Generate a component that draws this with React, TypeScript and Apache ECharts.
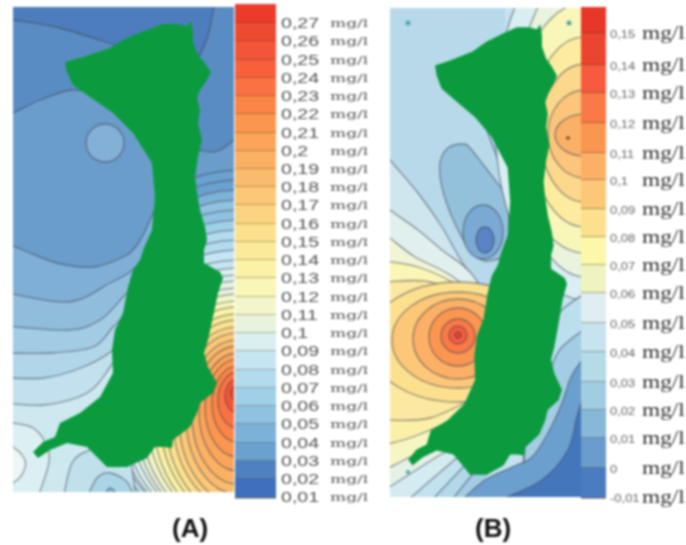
import React, { useEffect, useRef } from "react";
import * as echarts from "echarts";

type P = number[];
type Layer = { segs?: P[][]; ring?: number[]; color: string; line?: boolean };

// ---- legends ----
const labelsA = ["0,27","0,26","0,25","0,24","0,23","0,22","0,21","0,2","0,19","0,18","0,17","0,16","0,15","0,14","0,13","0,12","0,11","0,1","0,09","0,08","0,07","0,06","0,05","0,04","0,03","0,02","0,01"];
const edgesA = [4,23,41,60,78,96,114,133,151,169,187,205,224,242,260,278,297,315,333,351,370,388,406,424,443,461,479,498];
const colorsA = ["#ea3b2b","#ee4a30","#f25538","#f8603c","#fb7242","#fb8547","#fb964e","#fca45a","#fbb164","#fbbb6c","#fcc877","#fcd481","#fce08d","#fbea99","#fbf2a6","#f9f6ba","#f3f6cb","#e7f3de","#d9eff0","#c6e5f2","#b2dbee","#a0d0e8","#8fc2e0","#7cb2d8","#6aa1ce","#4f80bf","#3f6fbd"];
const labelsB = ["0,15","0,14","0,13","0,12","0,11","0,1","0,09","0,08","0,07","0,06","0,05","0,04","0,03","0,02","0,01","0","-0,01"];
const edgesB = [7,33,65,93,123,153,180,209,237,265,293,323,352,382,410,438,468,498];
const colorsB = ["#e8362a","#ea452e","#f75b3e","#fa7a47","#fb9650","#fcb066","#fcc878","#fce08e","#fdf7a9","#eff3c0","#deeef2","#c6e3ef","#b5dae8","#a0cde2","#86b8d8","#6a9dcd","#4a7cc0"];

// ---- island outline (shared by both panels) ----
const island: P[] = [[65,62],[83,57],[110,48],[127,38],[147,30],[163,24],[177,24],[187,26],[191,21],[193,32],[193,43],[198,55],[205,63],[211,72],[207,80],[200,90],[197,98],[200,110],[198,123],[202,140],[198,157],[195,177],[197,193],[200,210],[205,227],[207,240],[204,250],[204,263],[220,272],[223,278],[218,293],[213,317],[208,340],[204,353],[208,367],[217,383],[213,393],[200,403],[197,413],[190,427],[173,440],[172,448],[163,447],[155,447],[147,458],[127,467],[107,467],[98,458],[87,447],[67,443],[50,450],[38,458],[33,452],[43,442],[55,437],[60,423],[80,413],[100,397],[113,373],[112,350],[115,330],[123,313],[128,287],[133,270],[140,260],[144,248],[152,230],[155,197],[152,163],[133,133],[113,113],[90,97],[73,85],[67,72]];

// ---- panel A: isolines around the eastern maximum ----
const ringsA: number[][] = [[238,393,7,8],[238,396,13,17],[238,400,20,28],[238,404,26,38],[238,408,33,49],[238,412,39,59],[238,415,46,69],[238,417,52,77],[238,418,59,85],[238,418,65,91],[238,418,72,98],[238,417,78,103],[238,416,85,109],[238,414,91,113],[238,412,98,118],[238,410,104,122],[238,407,110,126],[238,405,117,130],[238,402,123,134],[238,398,128,138],[238,395,133,145],[238,392,138,152],[238,392,142,162],[238,392,146,172],[238,392,150,182],[238,392,154,192],[238,392,158,202],[238,392,162,212],[238,392,166,222]];
const ringColorIndexA = [1,2,4,5,6,7,8,9,10,11,12,13,14,15,16,17,17,18,18,19,19,20,20,21,22,22,23,24,24];
const pocketA = [105,143,19,19];
const closeLeft: P[] = [[150,340],[150,60],[-5,60]];
const westA: Layer[] = [
  { segs: [[[138,500],[125,477],[118,467]],[[130,300],[130,200],[-5,200],[-5,500]]], color: "#cde8ef" },
  { segs: [[[63,500],[72,463],[90,450],[105,450]],[[130,450],[136,500]]], color: "#c0e0eb" },
  { segs: [[[86,500],[97,478],[110,473],[127,482],[135,500]]], color: "#a9d5e4" },
  { segs: [[[103,500],[110,488],[122,500]]], color: "#7ebbd6" },
  { segs: [[[-5,422],[13,423],[33,428],[45,442],[49,462],[37,500]],[[-5,500]]], color: "#dcf0f3" },
  { segs: [[[-5,440],[13,447],[25,460],[23,473],[13,483],[-5,490]]], color: "#ecf6f5" },
  { segs: [[[-5,402],[43,405],[87,393],[110,367],[125,340]],closeLeft], color: "#c2e0ee" },
  { segs: [[[-5,377],[43,378],[83,367],[113,350],[128,330]],closeLeft], color: "#b2d6e9" },
  { segs: [[[-5,353],[50,353],[93,347],[113,327],[130,310]],closeLeft], color: "#a2cbe4" },
  { segs: [[[-5,325],[67,330],[100,320],[123,297],[135,285]],closeLeft], color: "#91bddd" },
  { segs: [[[-5,290],[67,302],[110,283],[130,272],[140,262]],closeLeft], color: "#7fafd6" },
  { segs: [[[-5,238],[23,250],[57,263],[93,267],[123,257],[137,245],[150,220],[158,195],[150,150]],[[150,60],[-5,60]]], color: "#6a9dcb" },
];
const northA: Layer[] = [
  { segs: [[[-5,120],[13,113],[40,100],[72,90],[100,95]],[[160,120],[195,145]],[[200,150],[218,151],[240,135]],[[240,-5],[-5,-5]]], color: "#5a8cc4" },
  { segs: [[[-5,18],[13,20],[60,28],[115,45]],[[200,55],[208,35],[214,7],[215,-5]],[[-5,-5]]], color: "#4d7dbd" },
];

// ---- panel B ----
const seaB: P[] = [[380,0],[600,0],[600,520],[380,520]];
const closeWestB: P[] = [[520,310],[520,520],[385,520]];
const closeSouthB: P[] = [[560,465],[560,520],[385,520]];
const westB: Layer[] = [
  { segs: [[[385,150],[390,160],[418,193],[442,227],[462,262],[495,310]],closeWestB], color: "#cfe6ef" },
  { segs: [[[385,205],[390,210],[418,230],[442,250],[470,272],[495,310]],closeWestB], color: "#e1f0ee" },
  { segs: [[[385,235],[390,238],[415,257],[450,275],[495,310]],closeWestB], color: "#f1f5d6" },
  { segs: [[[385,261],[418,267],[452,282],[495,310]],closeWestB], color: "#fbf6b4" },
  { segs: [[[385,282],[435,283],[495,315]],closeWestB], color: "#fce8a0" },
  { segs: [[[385,420],[430,418],[480,395]],closeSouthB], color: "#fbf0a8" },
  { segs: [[[385,445],[418,435],[470,412]],closeSouthB], color: "#f6f6c4" },
  { segs: [[[385,470],[428,448],[470,430]],closeSouthB], color: "#e4f1e6" },
  { segs: [[[385,490],[440,455],[470,440]],closeSouthB], color: "#d3ebf1" },
  { segs: [[[408,500],[458,457],[475,445]],closeSouthB], color: "#c3e2ef" },
  { segs: [[[432,500],[465,465],[480,450]],closeSouthB], color: "#b2d8ea" },
  { segs: [[[452,500],[472,475],[485,462]],closeSouthB], color: "#a3cde4" },
];
const hotRingsB: number[][] = [[458,342,90,60],[458,340,66,48],[458,339,45,40],[458,337,29,29],[458,336,17,17],[458,335,9,9],[458,335,3,3]];
const hotColorsB = [colorsB[7],colorsB[6],colorsB[5],colorsB[4],colorsB[3],colorsB[2],colorsB[1]];
const lobesB: Layer[] = [
  { segs: [[[482,117],[498,160],[510,190]],[[530,190],[530,110]]], color: "#a9d1e6" },
  { segs: [[[508,197],[485,167],[470,148],[463,144],[448,148],[440,163],[442,187],[452,217],[468,247],[485,261],[510,255]]], color: "#93c1dc" },
  { ring: [483,232,20,27], color: "#7aaad3" },
  { ring: [485,240,9,13], color: "#5a84c6" },
];
const eastBaseB: P[] = [[505,-5],[620,-5],[620,520],[470,520],[485,480],[520,420],[525,250],[505,150]];
const eastRingsB: number[][] = [[585,120,90,180],[585,122,70,155],[585,128,70,125],[585,132,55,95],[585,133,45,69],[585,134,37,44],[585,135,30,21]];
const eastColorsB = ["#d9eef2","#e9f3de","#f8f6b8","#fdeca0","#fcd88c","#fcc57b","#fbb068"];
const southEastB: Layer[] = [
  { segs: [[[590,290],[562,310],[550,332]],[[530,360],[530,520],[620,520],[620,290]]], color: "#bcdfee" },
  { segs: [[[590,325],[562,347],[552,365]],[[530,390],[530,520],[620,520],[620,325]]], color: "#a3cde4" },
  { segs: [[[590,350],[572,375],[562,403],[548,433],[532,457],[512,467],[485,480],[462,500]],[[620,520],[620,350]]], color: "#6a9fce" },
  { segs: [[[590,375],[578,413],[568,450],[542,480],[500,500]],[[620,520]]], color: "#4476bc" },
];
const dotsB: number[][] = [[408,23,2.5,2.5],[569,23,2.5,2.5],[408,472,2,2]];
const peakDotB = [568,138,2,2];

const titles = [{ text: "(A)", x: 172 }, { text: "(B)", x: 475 }];

function smooth(pts: P[], map: (p: P) => number[], first: boolean) {
  const c = pts.map(map);
  let d = (first ? "M" : "L") + c[0][0] + " " + c[0][1];
  for (let i = 0; i < c.length - 1; i++) {
    if (pts.length < 3) { d += "L" + c[i + 1][0] + " " + c[i + 1][1]; continue; }
    const a = c[Math.max(i - 1, 0)], b = c[i], e = c[i + 1], f = c[Math.min(i + 2, c.length - 1)];
    d += "C" + (b[0] + (e[0] - a[0]) / 6) + " " + (b[1] + (e[1] - a[1]) / 6) + " " + (e[0] - (f[0] - b[0]) / 6) + " " + (e[1] - (f[1] - b[1]) / 6) + " " + e[0] + " " + e[1];
  }
  return d;
}

const EDGE = "rgba(62,66,82,0.55)";

function layerSeries(layers: Layer[], axis: number, straight = false) {
  return {
    type: "custom", coordinateSystem: "cartesian2d", xAxisIndex: axis, yAxisIndex: axis, clip: true, silent: true,
    data: layers.map((_, i) => [i]),
    renderItem: (params: any, api: any) => {
      const l = layers[params.dataIndex];
      const map = (p: P) => api.coord(p);
      const style = { fill: l.color, stroke: l.line === false ? "none" : EDGE, lineWidth: 1.3 };
      if (l.ring) {
        const [cx, cy, rx, ry] = l.ring;
        const c = api.coord([cx, cy]), o = api.coord([cx + rx, cy + ry]);
        return { type: "ellipse", shape: { cx: c[0], cy: c[1], rx: Math.abs(o[0] - c[0]), ry: Math.abs(o[1] - c[1]) }, style };
      }
      if (straight) {
        return { type: "polygon", shape: { points: l.segs![0].map(map) }, style };
      }
      const d = l.segs!.map((s, i) => smooth(s, map, i === 0)).join("") + "Z";
      return { type: "path", shape: { pathData: d }, style };
    },
  };
}

function legendSeries(labels: string[], edges: number[], colors: string[], o: any) {
  return {
    type: "custom", coordinateSystem: "cartesian2d", xAxisIndex: 3, yAxisIndex: 3, silent: true, clip: false,
    data: labels.map((_, i) => [i]),
    renderItem: (params: any, api: any) => {
      const i = params.dataIndex;
      const a = api.coord([o.x0, edges[i]]), b = api.coord([o.x1, edges[i + 1]]);
      const mid = api.coord([o.valueX, edges[i + 1]]), unit = api.coord([o.unitX, edges[i + 1]]);
      const labelY = i === labels.length - 1 ? mid[1] - 1 : mid[1];
      return {
        type: "group",
        children: [
          { type: "rect", shape: { x: a[0], y: a[1], width: b[0] - a[0], height: b[1] - a[1] }, style: { fill: colors[i] } },
          { type: "line", shape: { x1: a[0], y1: b[1], x2: b[0], y2: b[1] }, style: { stroke: "rgba(80,62,50,0.7)", lineWidth: 1.2 } },
          { type: "text", x: mid[0], y: labelY + o.valueDy, scaleX: o.valueScale, style: { text: labels[i], x: 0, y: 0, fill: o.valueColor, font: o.valueFont, verticalAlign: "middle", align: "left" } },
          { type: "text", x: unit[0], y: labelY + o.unitDy, scaleX: o.unitScale, style: { text: "mg/l", x: 0, y: 0, fill: o.unitColor, font: o.unitFont, verticalAlign: "middle", align: "left" } },
        ],
      };
    },
  };
}

export default function App() {
  const ref = useRef<HTMLDivElement>(null);
  useEffect(() => {
    document.body.style.margin = "0";
    const chart = echarts.init(ref.current!, null, { renderer: "svg" });
    const layersA: Layer[] = [
      { segs: [[[0,0],[240,0],[240,500],[0,500]]], color: "#6a9dcb", line: false },
      ...ringsA.map((r, i) => ({ ring: r, color: colorsA[ringColorIndexA[i]] })).reverse(),
      ...westA,
      { ring: pocketA, color: "#82b0d6" },
      ...northA,
    ];
    const layersB: Layer[] = [
      { segs: [seaB], color: "#b7d9ea", line: false },
      ...westB,
      ...hotRingsB.map((r, i) => ({ ring: r, color: hotColorsB[i] })),
      ...lobesB,
      { segs: [eastBaseB], color: "#c4e2ef", line: false },
      ...eastRingsB.map((r, i) => ({ ring: r, color: eastColorsB[i] })),
      ...southEastB,
    ];
    const hide = { type: "value", show: false };
    const axis = (gridIndex: number, min: number, max: number) => ({ ...hide, gridIndex, min, max });
    const yAxisOf = (gridIndex: number, min: number, max: number) => ({ ...hide, gridIndex, min, max, inverse: true });
    const land: Layer[] = [{ segs: [island], color: "#0b9b3e", line: false }];
    chart.setOption({
      animation: false,
      backgroundColor: "#ffffff",
      title: titles.map((t) => ({ text: t.text, left: t.x, top: 515, padding: 0, textStyle: { fontFamily: "Liberation Sans", fontWeight: "bold", fontSize: 26, color: "#111" } })),
      grid: [
        { left: 13, top: 7, width: 221, height: 485 },
        { left: 390, top: 8, width: 191, height: 489 },
        { left: 0, top: 0, width: 686, height: 545 },
      ],
      xAxis: [axis(0, 13, 234), axis(1, 390, 581), axis(1, 11.1, 239.8), axis(2, 0, 686)],
      yAxis: [yAxisOf(0, 7, 492), yAxisOf(1, 8, 497), yAxisOf(1, 4.95, 489.1), yAxisOf(2, 0, 545)],
      series: [
        layerSeries(layersA, 0),
        layerSeries(land, 0, true),
        layerSeries(layersB, 1),
        layerSeries(land, 2, true),
        layerSeries([...dotsB.map((r) => ({ ring: r, color: "#4da3ad", line: false })), { ring: peakDotB, color: "#8a5a30", line: false }], 1),
        legendSeries(labelsA, edgesA, colorsA, { x0: 235, x1: 276, valueX: 281, unitX: 330, valueDy: 0, unitDy: 0, valueScale: 1.4, unitScale: 1.55, valueColor: "#555", unitColor: "#555", valueFont: "14px 'Liberation Sans'", unitFont: "11px 'DejaVu Serif'" }),
        legendSeries(labelsB, edgesB, colorsB, { x0: 581, x1: 606, valueX: 610, unitX: 642, valueDy: 2, unitDy: 0, valueScale: 1.3, unitScale: 1.23, valueColor: "#666", unitColor: "#333", valueFont: "10px 'Liberation Sans'", unitFont: "19px 'Liberation Serif'" }),
      ],
    });
    return () => chart.dispose();
  }, []);
  return <div ref={ref} style={{ position: "absolute", left: 0, top: 0, width: 686, height: 545, filter: "blur(0.8px)" }} />;
}
